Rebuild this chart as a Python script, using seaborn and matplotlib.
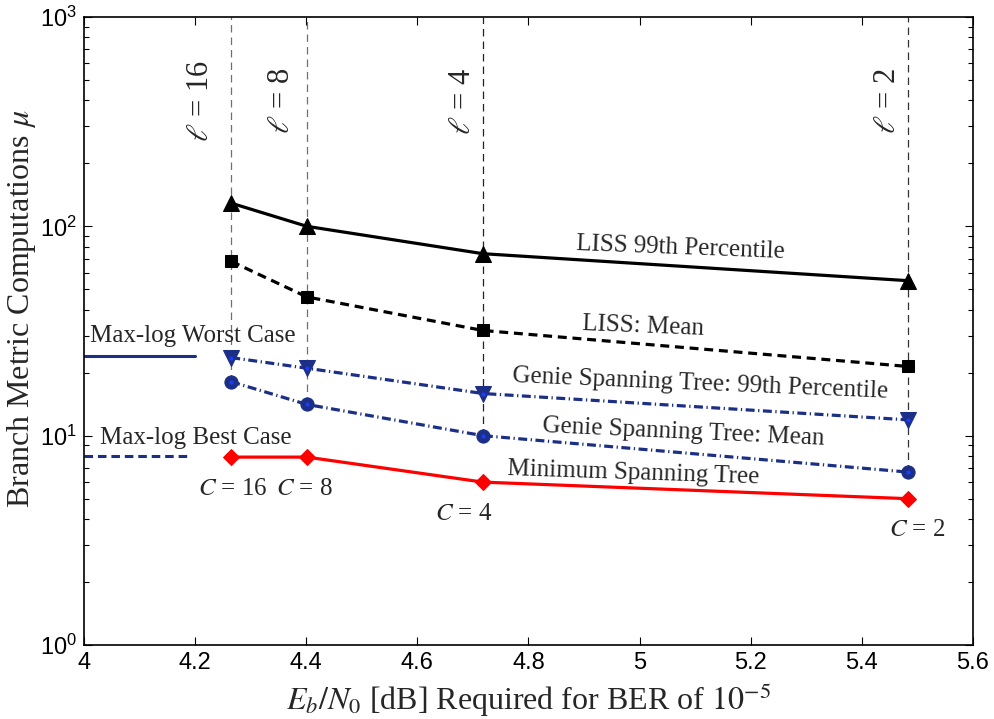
import numpy as np
import pandas as pd
import matplotlib
matplotlib.use("Agg")
import matplotlib.pyplot as plt
import seaborn as sns

# --- data ---
ebn0 = [4.265, 4.401, 4.718, 5.483]
liss_p99 = [129, 100, 74, 55]
liss_mean = [68, 46, 31.8, 21.4]
genie_p99 = [23.6, 21.0, 15.9, 11.9]
genie_mean = [18.1, 14.1, 10.0, 6.7]
mst = [7.9, 7.9, 6.0, 5.0]
ell_labels = [r"$\ell$ = 16", r"$\ell$ = 8", r"$\ell$ = 4", r"$\ell$ = 2"]
c_labels = [r"$C$ = 16", r"$C$ = 8", r"$C$ = 4", r"$C$ = 2"]
maxlog_worst = 24
maxlog_best = 8
xticks = [4, 4.2, 4.4, 4.6, 4.8, 5, 5.2, 5.4, 5.6]
xtick_labels = ["4", "4.2", "4.4", "4.6", "4.8", "5", "5.2", "5.4", "5.6"]

sns.set_theme(style="ticks")
plt.rcParams['font.family'] = ['Liberation Sans', 'DejaVu Sans']
plt.rcParams['mathtext.fontset'] = 'stix'
plt.rcParams['xtick.direction'] = 'in'
plt.rcParams['ytick.direction'] = 'in'

NAVY = '#1b2f86'
SERIF = ['Liberation Serif', 'DejaVu Serif']
TXT = '#262626'

fig = plt.figure(figsize=(9.95, 7.19), dpi=100)
ax = fig.add_axes([0.0844, 0.1029, 0.8935, 0.8735])

# vertical guide lines for each ell
guide_colors = ['#707070', '#707070', '#222222', '#333333']
ax.vlines(ebn0, genie_mean, 1000, colors=guide_colors, linestyles=(0, (6, 4)),
          linewidth=0.9, zorder=1)

# max-log reference lines
sns.lineplot(x=[4.0, 4.2], y=[maxlog_worst] * 2, ax=ax, color=NAVY, linewidth=2.2)
ax.plot([4.0, 4.19], [maxlog_best] * 2, color=NAVY, linewidth=2.2, dashes=(2.8, 1.6))

# series
sns.lineplot(x=ebn0, y=liss_p99, ax=ax, color='black', linewidth=2.3,
             marker='^', markersize=12, markeredgecolor='black')
sns.lineplot(x=ebn0, y=liss_mean, ax=ax, color='black', linewidth=2.3,
             marker='s', markersize=8, markeredgecolor='black')
ax.lines[-1].set_dashes((2.8, 1.8))
sns.lineplot(x=ebn0, y=genie_p99, ax=ax, color=NAVY, linewidth=2.3,
             marker='v', markersize=12, markeredgecolor=NAVY)
ax.lines[-1].set_dashes((2.8, 1.1, 0.4, 1.1))
sns.lineplot(x=ebn0, y=genie_mean, ax=ax, color=NAVY, linewidth=2.3,
             marker='o', markersize=9.5, markeredgecolor=NAVY)
ax.lines[-1].set_dashes((2.8, 1.1, 0.4, 1.1))
ax.plot(ebn0, genie_p99, linestyle='none', marker='o', markersize=2, color='#1a3cff')
ax.plot(ebn0, genie_mean, linestyle='none', marker='o', markersize=2, color='#1a3cff')
sns.lineplot(x=ebn0, y=mst, ax=ax, color='red', linewidth=2.3,
             marker='D', markersize=8.5, markeredgecolor='red')

ax.set_yscale('log')
ax.set_xlim(4, 5.6)
ax.set_ylim(1, 1000)
ax.set_xticks(xticks)
ax.set_xticklabels(xtick_labels)
ax.tick_params(axis='both', which='both', top=True, right=True, labelsize=17, colors='black')
ax.tick_params(axis='both', which='major', length=6, width=0.8, pad=5)
ax.tick_params(axis='y', which='minor', length=3.5, width=0.8)
for s in ax.spines.values():
    s.set_linewidth(1.2)
    s.set_color('black')

ax.set_xlabel(r"$E_b/N_0$ [dB] Required for BER of $10^{-5}$", fontsize=23, family=SERIF,
              color=TXT, labelpad=5)
ax.set_ylabel(r"Branch Metric Computations $\mu$", fontsize=23, family=SERIF, color=TXT)
ax.yaxis.set_label_coords(-0.052, 0.535)

# series labels
lab_kw = dict(fontsize=18, family=SERIF, color=TXT, ha='center', va='center')
ax.text(5.074, 78.9, "LISS 99th Percentile", rotation=-2.2, **lab_kw)
ax.text(5.007, 33.4, "LISS: Mean", rotation=-2.3, **lab_kw)
ax.text(5.110, 17.7, "Genie Spanning Tree: 99th Percentile", rotation=-2.4, **lab_kw)
ax.text(5.079, 10.4, "Genie Spanning Tree: Mean", rotation=-2.6, **lab_kw)
ax.text(4.989, 6.63, "Minimum Spanning Tree", rotation=-1.9, **lab_kw)
ax.text(4.196, 29.9, "Max-log Worst Case", **lab_kw)
ax.text(4.202, 9.75, "Max-log Best Case", **lab_kw)

# C labels under MST points
c_x = [4.268, 4.396, 4.683, 5.499]
c_y = [5.56, 5.56, 4.23, 3.54]
for x, y, lab in zip(c_x, c_y, c_labels):
    ax.text(x, y, lab, **lab_kw)

# ell labels, rotated, left of each guide line
ell_dx = [0.056, 0.045, 0.037, 0.036]
for x, dx, lab in zip(ebn0, ell_dx, ell_labels):
    ax.text(x - dx, 396, lab, fontsize=22, family=SERIF, color=TXT, rotation=90,
            ha='center', va='center')

fig.savefig("out.png", dpi=100)
